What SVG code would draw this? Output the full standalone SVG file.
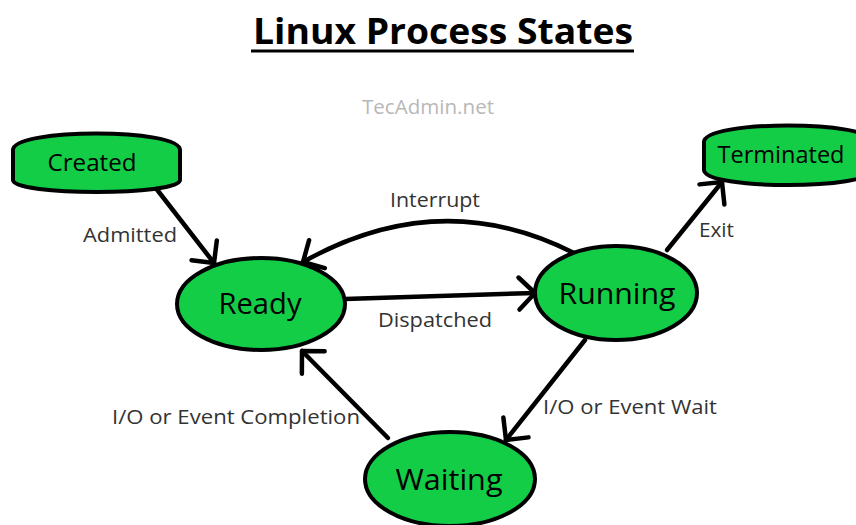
<svg xmlns="http://www.w3.org/2000/svg" width="856" height="525" viewBox="0 0 856 525">
<defs>
<style>
.node{fill:#13cd47;stroke:#000;stroke-width:4}
.lbl{font-family:"Open Sans","Noto Sans",sans-serif;fill:#000;text-anchor:middle}
.elbl{font-family:"Open Sans","Noto Sans",sans-serif;fill:#333;font-size:20px}
.edge{fill:none;stroke:#000;stroke-width:4.5;stroke-linecap:round}
</style>
<marker id="arr" markerUnits="userSpaceOnUse" markerWidth="40" markerHeight="40" refX="0" refY="0" viewBox="-20 -20 40 40" orient="auto" overflow="visible">
<path d="M-16,-16 L0,0 L-16,16" fill="none" stroke="#000" stroke-width="4.5" stroke-linecap="round" stroke-linejoin="round"/>
</marker>
</defs>
<rect width="856" height="525" fill="#fff"/>
<g id="title">
<text x="443" y="44" font-family="Open Sans,Noto Sans,sans-serif" font-weight="bold" font-size="36" text-anchor="middle" textLength="380" lengthAdjust="spacingAndGlyphs">Linux Process States</text>
<line x1="251" y1="51" x2="634" y2="51" stroke="#000" stroke-width="3"/>
<text x="428" y="114" font-family="Open Sans,Noto Sans,sans-serif" font-size="20" fill="#b8b8b8" text-anchor="middle" textLength="132" lengthAdjust="spacingAndGlyphs">TecAdmin.net</text>
</g>
<g id="connectors">
<line class="edge" x1="155" y1="187" x2="214" y2="263" marker-end="url(#arr)"/>
<path class="edge" d="M574,253 Q440,185 303,262" marker-end="url(#arr)"/>
<line class="edge" x1="345" y1="299" x2="535" y2="293" marker-end="url(#arr)"/>
<line class="edge" x1="667" y1="250" x2="722" y2="182" marker-end="url(#arr)"/>
<line class="edge" x1="585" y1="340" x2="506" y2="440" marker-end="url(#arr)"/>
<line class="edge" x1="388" y1="438" x2="302" y2="351" marker-end="url(#arr)"/>
<text class="elbl" x="83" y="242" textLength="94" lengthAdjust="spacingAndGlyphs">Admitted</text>
<text class="elbl" x="390" y="207" textLength="90" lengthAdjust="spacingAndGlyphs">Interrupt</text>
<text class="elbl" x="378" y="327" textLength="114" lengthAdjust="spacingAndGlyphs">Dispatched</text>
<text class="elbl" x="699" y="237" textLength="35" lengthAdjust="spacingAndGlyphs">Exit</text>
<text class="elbl" x="112" y="424" textLength="248" lengthAdjust="spacingAndGlyphs">I/O or Event Completion</text>
<text class="elbl" x="543" y="414" textLength="174" lengthAdjust="spacingAndGlyphs">I/O or Event Wait</text>
</g>
<g id="created">
<path class="node" d="M13,150 C13,128 180,128 180,150 L180,180 C180,196 13,196 13,180 Z"/>
<text class="lbl" x="92" y="171" font-size="23" textLength="89" lengthAdjust="spacingAndGlyphs">Created</text>
</g>
<g id="terminated">
<path class="node" d="M704,142 C704,120 872,120 872,142 L872,170 C872,190 704,190 704,170 Z"/>
<text class="lbl" x="781" y="163" font-size="23" textLength="127" lengthAdjust="spacingAndGlyphs">Terminated</text>
</g>
<g id="ready">
<ellipse class="node" cx="261" cy="304" rx="84" ry="46"/>
<text class="lbl" x="260" y="314" font-size="29" textLength="83" lengthAdjust="spacingAndGlyphs">Ready</text>
</g>
<g id="running">
<ellipse class="node" cx="616" cy="293" rx="81" ry="47"/>
<text class="lbl" x="617" y="304" font-size="29" textLength="117" lengthAdjust="spacingAndGlyphs">Running</text>
</g>
<g id="waiting">
<ellipse class="node" cx="450" cy="479" rx="85" ry="47"/>
<text class="lbl" x="449" y="490" font-size="29" textLength="107" lengthAdjust="spacingAndGlyphs">Waiting</text>
</g>
</svg>
